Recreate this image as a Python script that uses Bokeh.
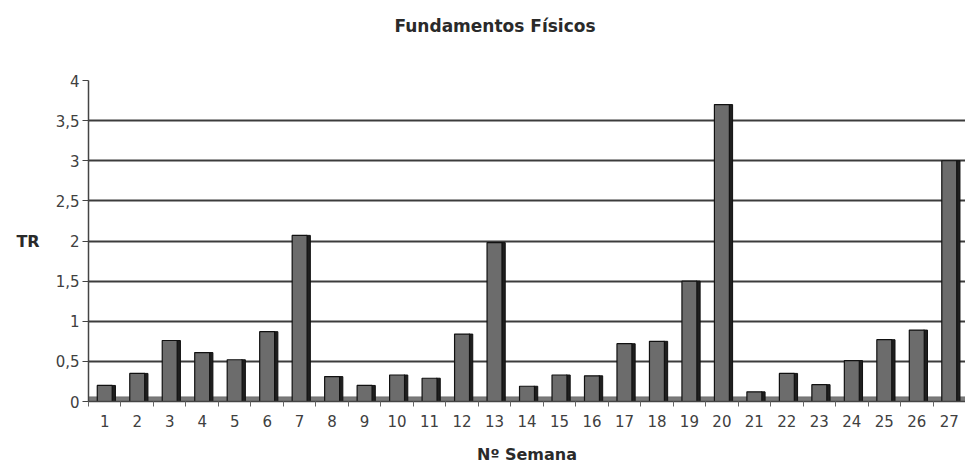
from bokeh.plotting import figure
from bokeh.models import FixedTicker, Range1d, BoxAnnotation, ColumnDataSource, Title
from bokeh.transform import dodge
from bokeh.embed import file_html
from bokeh.resources import INLINE

# ---- data ----
semanas = list(range(1, 28))
tr = [0.20, 0.35, 0.76, 0.61, 0.52, 0.87, 2.07, 0.31, 0.20, 0.33, 0.29, 0.84, 1.98, 0.19,
      0.33, 0.32, 0.72, 0.75, 1.50, 3.70, 0.12, 0.35, 0.21, 0.51, 0.77, 0.89, 3.00]
y_ticks = [0, 0.5, 1, 1.5, 2, 2.5, 3, 3.5, 4]
y_tick_labels = ["0", "0,5", "1", "1,5", "2", "2,5", "3", "3,5", "4"]
x_tick_labels = [str(s) for s in semanas]
title_text = "Fundamentos Físicos"
x_label = "Nº Semana"
y_label = "TR"

FONT = "DejaVu Sans"

source = ColumnDataSource(dict(x=semanas, top=tr))

p = figure(width=965, height=466, output_backend="svg", toolbar_location=None,
           x_range=Range1d(0.5, 27.5), y_range=Range1d(0, 4),
           min_border_left=88, min_border_right=0, min_border_top=80, min_border_bottom=61)
p.outline_line_color = None
p.background_fill_color = "white"

# spacer between frame and title (pushes the title upward)
p.add_layout(Title(text=" ", text_font=FONT, text_font_size="17px", standoff=23), "above")

# title
p.title.text = title_text
p.title.align = "left"
p.title.offset = 306
p.title.text_font = FONT
p.title.text_font_size = "17px"
p.title.text_font_style = "bold"
p.title.text_color = "#2a2a2a"
p.title.standoff = 0

# floor band
p.add_layout(BoxAnnotation(bottom=0, top=0.06, fill_color="#7a7a7a", fill_alpha=1.0,
                           line_color="#333333", line_width=1, level="underlay"))

# bars: dark side + face
p.vbar(x=dodge("x", 0.27, range=p.x_range), top="top", width=0.12, source=source,
       fill_color="#1f1f1f", line_color="#111111", line_width=1)
p.vbar(x="x", top="top", width=0.46, source=source,
       fill_color="#6c6c6c", line_color="#111111", line_width=1.2)

# grid
p.xgrid.grid_line_color = None
p.ygrid.ticker = FixedTicker(ticks=y_ticks)
p.ygrid.grid_line_color = "#3c3c3c"
p.ygrid.grid_line_width = 2

# y axis
p.yaxis.ticker = FixedTicker(ticks=y_ticks)
p.yaxis.major_label_overrides = dict(zip(y_ticks, y_tick_labels))
p.yaxis.axis_label = y_label
p.yaxis.axis_label_orientation = "horizontal"
p.yaxis.axis_label_standoff = 13
p.yaxis.axis_label_text_font = FONT
p.yaxis.axis_label_text_font_size = "16px"
p.yaxis.axis_label_text_font_style = "bold"
p.yaxis.axis_label_text_color = "#2a2a2a"
p.yaxis.major_tick_out = 6
p.yaxis.major_tick_in = 0
p.yaxis.minor_tick_line_color = None
p.yaxis.axis_line_color = "#444444"
p.yaxis.axis_line_width = 1.5
p.yaxis.major_tick_line_color = "#444444"

# x axis
p.xaxis.ticker = FixedTicker(ticks=semanas, minor_ticks=[s + 0.5 for s in [0] + semanas])
p.xaxis.major_label_overrides = dict(zip(semanas, x_tick_labels))
p.xaxis.axis_label = x_label
p.xaxis.axis_label_standoff = 15
p.xaxis.axis_label_text_font = FONT
p.xaxis.axis_label_text_font_size = "16px"
p.xaxis.axis_label_text_font_style = "bold"
p.xaxis.axis_label_text_color = "#2a2a2a"
p.xaxis.major_tick_line_color = None
p.xaxis.minor_tick_out = 5
p.xaxis.minor_tick_in = 0
p.xaxis.minor_tick_line_color = "#666666"
p.xaxis.axis_line_color = "#444444"
p.xaxis.axis_line_width = 1.5

for ax in (p.xaxis, p.yaxis):
    ax.major_label_text_font = FONT
    ax.major_label_text_font_size = "15px"
    ax.major_label_text_color = "#404040"
p.xaxis.major_label_standoff = 7
p.yaxis.major_label_standoff = 3

open("out.html", "w").write(file_html(p, INLINE))
